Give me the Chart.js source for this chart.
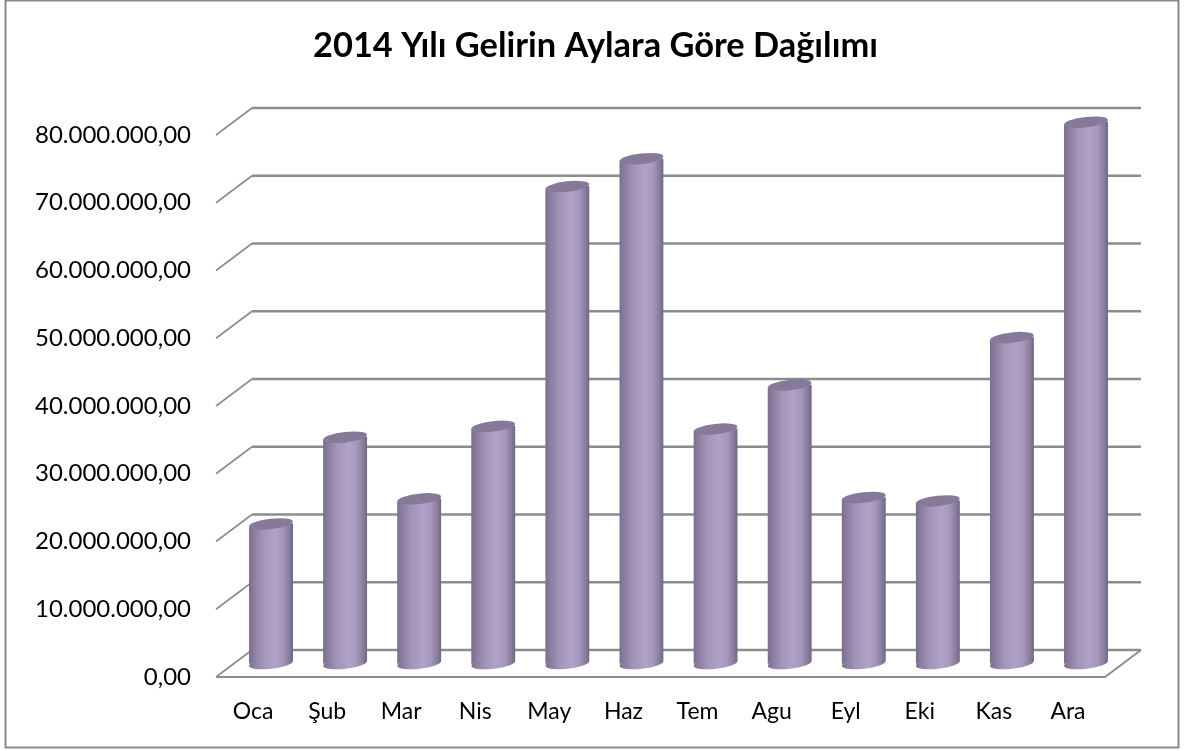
<!DOCTYPE html>
<html><head><meta charset="utf-8">
<style>html,body{margin:0;padding:0;background:#fff}canvas{display:block}</style>
<script src="https://cdn.jsdelivr.net/npm/chart.js@4"></script>
</head><body>
<canvas id="c" width="1186" height="751"></canvas>
<script>
const chartTitle = "2014 Yılı Gelirin Aylara Göre Dağılımı";
const months = ["Oca","Şub","Mar","Nis","May","Haz","Tem","Agu","Eyl","Eki","Kas","Ara"];
const income = [20600000,33400000,24300000,35000000,70400000,74500000,34600000,41100000,24500000,24000000,48100000,79900000];

const DEPTH_X = 36, DEPTH_Y = 27, RY = 5.2, TILT = -6.5 * Math.PI / 180;
function barGradient(ctx, x, w) {
  const g = ctx.createLinearGradient(x - w/2, 0, x + w/2, 0);
  g.addColorStop(0, '#7a6e8c');
  g.addColorStop(0.12, '#8b7ea0');
  g.addColorStop(0.32, '#a295b9');
  g.addColorStop(0.58, '#b0a2c7');
  g.addColorStop(0.76, '#a598bc');
  g.addColorStop(0.92, '#877b9b');
  g.addColorStop(1, '#6f6482');
  return g;
}
const depthPlugin = {
  id: 'depth',
  beforeDraw(chart) {
    const c = chart.ctx;
    c.save();
    c.fillStyle = '#fff';
    c.fillRect(0, 0, chart.width, chart.height);
    c.strokeStyle = '#8a8a8a';
    c.lineWidth = 2;
    c.strokeRect(5.5, 0.5, 1173, 747);
    c.restore();
  },
  beforeDatasetsDraw(chart) {
    const c = chart.ctx, y = chart.scales.y, a = chart.chartArea;
    c.save();
    c.strokeStyle = '#8c8c8c';
    y.ticks.forEach(t => {
      const py = y.getPixelForValue(t.value);
      c.lineWidth = 1.6;
      c.beginPath();
      c.moveTo(a.left, py);
      c.lineTo(a.left + DEPTH_X, py - DEPTH_Y);
      c.stroke();
      c.lineWidth = 2.4;
      c.beginPath();
      c.moveTo(a.left + DEPTH_X, py - DEPTH_Y);
      c.lineTo(a.right + DEPTH_X, py - DEPTH_Y);
      c.stroke();
    });
    const p0 = y.getPixelForValue(0);
    c.lineWidth = 2;
    c.beginPath();
    c.moveTo(a.left, p0);
    c.lineTo(a.right, p0);
    c.lineTo(a.right + DEPTH_X, p0 - DEPTH_Y);
    c.stroke();
    c.restore();

    c.save();
    c.translate(DEPTH_X / 2, -DEPTH_Y / 2);
    c.beginPath();
    const dy = Math.sin(-TILT) * 22;
    chart.getDatasetMeta(0).data.forEach(b => {
      const l = b.x - b.width / 2, r = b.x + b.width / 2;
      c.moveTo(l, b.y + dy);
      c.lineTo(r, b.y - dy);
      c.lineTo(r, b.base - dy);
      c.lineTo(l, b.base + dy);
      c.closePath();
    });
    c.clip();
  },
  afterDatasetsDraw(chart) {
    const c = chart.ctx;
    c.restore();
    c.save();
    c.translate(DEPTH_X / 2, -DEPTH_Y / 2);
    chart.getDatasetMeta(0).data.forEach(b => {
      const rx = b.width / 2;
      c.fillStyle = barGradient(c, b.x, b.width);
      c.beginPath();
      c.ellipse(b.x, b.base, rx, RY, TILT, 0, Math.PI * 2);
      c.fill();
      c.fillStyle = '#867a98';
      c.beginPath();
      c.ellipse(b.x, b.y, rx, RY, TILT, 0, Math.PI * 2);
      c.fill();
    });
    c.restore();
  }
};
new Chart(document.getElementById('c'), {
  type: 'bar',
  data: {
    labels: months,
    datasets: [{
      data: income,
      barThickness: 44,
      clip: false,
      borderWidth: 0,
      backgroundColor: ctx => {
        const s = ctx.chart.scales.x;
        if (!s || ctx.dataIndex === undefined) return '#b1a3c9';
        const px = s.getPixelForValue(ctx.dataIndex);
        if (!isFinite(px)) return '#b1a3c9';
        return barGradient(ctx.chart.ctx, px, 44);
      }
    }]
  },
  plugins: [depthPlugin],
  options: {
    responsive: false,
    animation: false,
    layout: { padding: { left: 5, right: 0, top: 0, bottom: 0 } },
    plugins: {
      legend: { display: false },
      tooltip: { enabled: false },
      title: {
        display: true,
        text: chartTitle,
        color: '#000',
        font: { family: 'Lato', size: 34.4, weight: 'bold', lineHeight: 1 },
        padding: { top: 29, bottom: 71.6 }
      }
    },
    scales: {
      x: {
        grid: { display: false, drawTicks: false },
        border: { display: false },
        ticks: { color: '#000', font: { family: 'Lato', size: 23 }, padding: 21, maxRotation: 0 },
        afterFit: s => { s.height = 74; }
      },
      y: {
        min: 0,
        max: 80000000,
        grid: { display: false, drawTicks: false },
        border: { display: false },
        ticks: {
          stepSize: 10000000,
          color: '#000',
          padding: 25,
          font: { family: 'Lato', size: 24 },
          callback: v => {
            const m = String(Math.round(v)).replace(/\B(?=(\d{3})+$)/g, '.');
            return m + ',00';
          }
        },
        afterFit: s => { s.width = 211; }
      },
      rightGap: {
        position: 'right',
        grid: { display: false, drawTicks: false },
        border: { display: false },
        ticks: { display: false },
        afterFit: s => { s.width = 81; }
      }
    }
  }
});
</script>
</body></html>
